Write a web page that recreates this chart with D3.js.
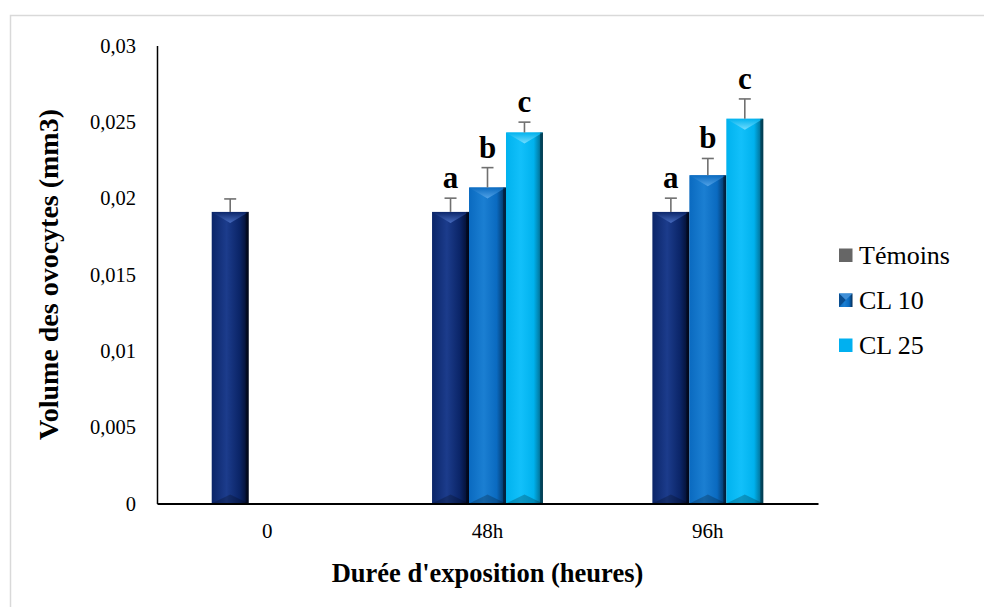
<!DOCTYPE html>
<html>
<head>
<meta charset="utf-8">
<script src="https://cdn.jsdelivr.net/npm/d3@7"></script>
<style>
  html, body { margin: 0; padding: 0; background: #fff; }
  svg { display: block; }
  text { font-family: "Liberation Serif", "Times New Roman", serif; fill: #000; }
</style>
</head>
<body>
<svg id="chart" width="984" height="607"></svg>
<script>
// Oocyte volume (mm3) by exposure duration and treatment group
const categories = ["0", "48h", "96h"];
const series = ["Témoins", "CL 10", "CL 25"];
const temoins = [0.0191, 0.0191, 0.0191];
const temoinsErr = [0.00085, 0.0009, 0.0009];
const cl10 = [null, 0.0207, 0.0215];
const cl10Err = [null, 0.0013, 0.0011];
const cl25 = [null, 0.0243, 0.0252];
const cl25Err = [null, 0.00068, 0.0013];
const lettersT = [null, "a", "a"];
const letters10 = [null, "b", "b"];
const letters25 = [null, "c", "c"];
const yTicks = [0, 0.005, 0.01, 0.015, 0.02, 0.025, 0.03];

const svg = d3.select("#chart");
const margin = { left: 157, right: 166, top: 45.5, bottom: 103.5 };
const W = 984, H = 607;

// outer frame
svg.append("rect")
  .attr("x", 10.5).attr("y", 15.5).attr("width", 1200).attr("height", 1200)
  .attr("fill", "none").attr("stroke", "#d9d9d9").attr("stroke-width", 1.5);

const x = d3.scaleBand().domain(categories)
  .range([margin.left, W - margin.right]).paddingInner(0).paddingOuter(0);
const xs = d3.scaleBand().domain(series)
  .range([0, x.bandwidth()]).paddingInner(0).paddingOuter(1.48);
const y = d3.scaleLinear().domain([0, 0.03]).range([H - margin.bottom, margin.top]);

// gradients for the bevelled bars
const defs = svg.append("defs");
const palette = {
  "Témoins": { dark: "#020a26", mid: "#0b2568", light: "#1c3c8c", top: "#4a6fc4" },
  "CL 10":   { dark: "#032a52", mid: "#0a6ac0", light: "#1b7fd2", top: "#58a7ea" },
  "CL 25":   { dark: "#035a78", mid: "#00b2ee", light: "#12c0fa", top: "#7ee0ff" }
};
series.forEach((s, i) => {
  const p = palette[s];
  const g = defs.append("linearGradient").attr("id", "grad" + i)
    .attr("x1", "0").attr("x2", "1").attr("y1", "0").attr("y2", "0");
  g.append("stop").attr("offset", "0").attr("stop-color", p.mid);
  g.append("stop").attr("offset", "0.4").attr("stop-color", p.light);
  g.append("stop").attr("offset", "0.75").attr("stop-color", p.mid);
  g.append("stop").attr("offset", "1").attr("stop-color", p.dark);
  const t = defs.append("linearGradient").attr("id", "top" + i)
    .attr("x1", "0").attr("x2", "0").attr("y1", "0").attr("y2", "1");
  t.append("stop").attr("offset", "0").attr("stop-color", p.mid);
  t.append("stop").attr("offset", "1").attr("stop-color", p.top);
});

const data = [];
categories.forEach((c, ci) => {
  [[temoins, temoinsErr, lettersT], [cl10, cl10Err, letters10], [cl25, cl25Err, letters25]]
    .forEach(([vals, errs, lets], si) => {
      if (vals[ci] == null) return;
      data.push({ cat: c, s: series[si], si, v: vals[ci], e: errs[ci], l: lets[ci] });
    });
});

const bars = svg.append("g");
data.forEach(d => {
  const x0 = x(d.cat) + xs(d.s), w = xs.bandwidth();
  const yt = y(d.v), yb = y(0), h = yb - yt;
  const g = bars.append("g");
  g.append("rect").attr("x", x0).attr("y", yt).attr("width", w).attr("height", h)
    .attr("fill", `url(#grad${d.si})`);
  const bev = 9;
  // top facet
  g.append("path")
    .attr("d", `M${x0},${yt} L${x0 + w},${yt} L${x0 + w / 2},${yt + bev + 2} Z`)
    .attr("fill", `url(#top${d.si})`).attr("opacity", 0.9);
  // bottom facet
  g.append("path")
    .attr("d", `M${x0},${yb} L${x0 + w},${yb} L${x0 + w / 2},${yb - bev} Z`)
    .attr("fill", "#000").attr("opacity", 0.22);
  // right edge shadow
  g.append("rect").attr("x", x0 + w - 3).attr("y", yt).attr("width", 3).attr("height", h)
    .attr("fill", "#000").attr("opacity", 0.35);

  // error bar
  const cx = x0 + w / 2, ye = y(d.v + d.e);
  g.append("line").attr("x1", cx).attr("x2", cx).attr("y1", yt).attr("y2", ye)
    .attr("stroke", "#707070").attr("stroke-width", 1.6);
  g.append("line").attr("x1", cx - 6).attr("x2", cx + 6).attr("y1", ye).attr("y2", ye)
    .attr("stroke", "#707070").attr("stroke-width", 1.6);
  if (d.l) {
    g.append("text").attr("x", cx).attr("y", ye - 10)
      .attr("text-anchor", "middle").attr("font-size", 31).attr("font-weight", "bold")
      .text(d.l);
  }
});

// axes
const yAxis = d3.axisLeft(y).tickValues(yTicks).tickSize(0).tickPadding(21)
  .tickFormat(d => d === 0 ? "0" : d3.format(".3~f")(d).replace(".", ","));
const gy = svg.append("g").attr("transform", `translate(${margin.left},0)`).call(yAxis);
gy.select(".domain").attr("stroke", "#000").attr("stroke-width", 1.5);
gy.selectAll("text").attr("font-size", 20.5).attr("font-family", "Liberation Serif, serif").attr("fill", "#000");

const xAxis = d3.axisBottom(x).tickSize(0).tickPadding(20);
const gx = svg.append("g").attr("transform", `translate(0,${y(0)})`).call(xAxis);
gx.select(".domain").attr("stroke", "#000").attr("stroke-width", 2);
gx.selectAll("text").attr("font-size", 21).attr("font-family", "Liberation Serif, serif").attr("fill", "#000");

// axis titles
svg.append("text").attr("x", (margin.left + W - margin.right) / 2).attr("y", 582)
  .attr("text-anchor", "middle").attr("font-size", 26.5).attr("font-weight", "bold")
  .text("Durée d'exposition (heures)");
svg.append("text").attr("transform", `translate(58,${(margin.top + H - margin.bottom) / 2}) rotate(-90)`)
  .attr("text-anchor", "middle").attr("font-size", 28).attr("font-weight", "bold")
  .text("Volume des ovocytes (mm3)");

// legend
const legendFill = ["#666666", "url(#grad1)", "#00b0f0"];
const lg = svg.append("g");
series.forEach((s, i) => {
  const yy = 255 + i * 45;
  lg.append("rect").attr("x", 839).attr("y", yy - 6.5).attr("width", 13.5).attr("height", 13.5)
    .attr("fill", legendFill[i]);
  if (i === 1) {
    lg.append("path").attr("d", `M839,${yy - 6.5} L852.5,${yy - 6.5} L845.75,${yy} Z`).attr("fill", "#3f8fd8");
    lg.append("path").attr("d", `M839,${yy - 6.5} L845.75,${yy} L839,${yy + 7} Z`).attr("fill", "#0a4e90");
  }
  lg.append("text").attr("x", 859).attr("y", yy).attr("dy", "0.35em")
    .attr("font-size", 26).text(s);
});
</script>
</body>
</html>
